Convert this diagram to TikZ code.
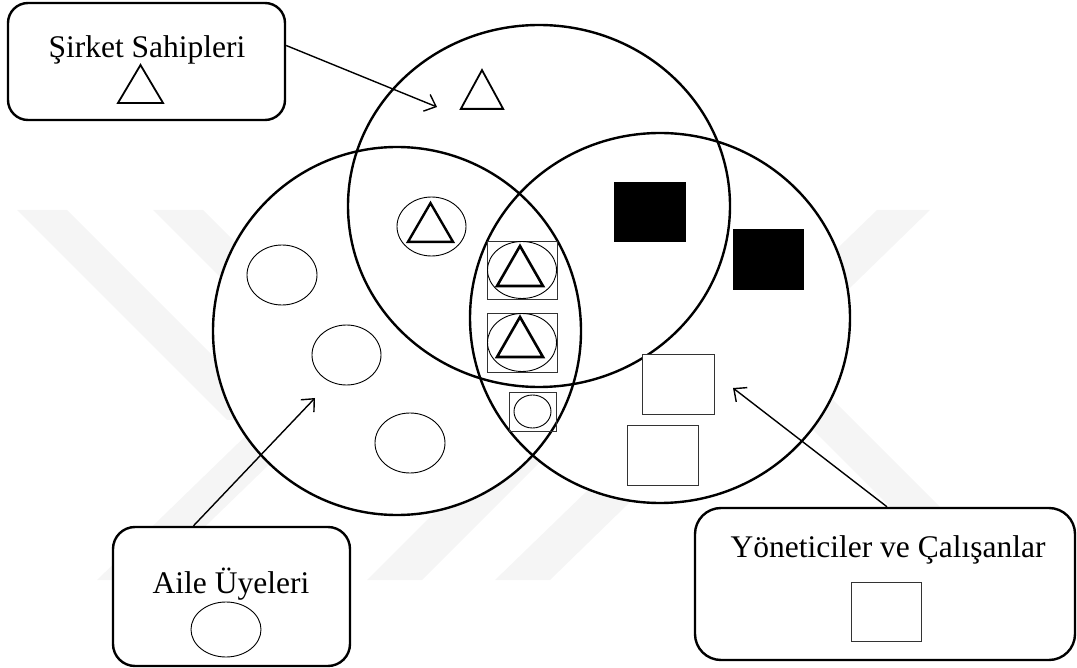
\documentclass[tikz,border=0pt]{standalone}
\usepackage{fontspec}
\setmainfont{Liberation Serif}
\usetikzlibrary{shapes.geometric,arrows.meta}

\tikzset{
  bigset/.style={ellipse, draw, line width=2.4pt, inner sep=0pt},
  member/.style={ellipse, draw, line width=0.9pt, inner sep=0pt,
                 minimum width=70pt, minimum height=60pt},
  frame/.style={rectangle, draw=black!80, line width=0.9pt, inner sep=0pt},
  blackbox/.style={rectangle, fill=black, inner sep=0pt,
                   minimum width=72pt, minimum height=60pt},
  whitebox/.style={rectangle, draw=black!80, line width=0.9pt, fill=white,
                   inner sep=0pt, minimum width=71pt, minimum height=60pt},
  legend/.style={rectangle, rounded corners=22pt, draw, line width=2.4pt,
                 fill=white, inner sep=0pt},
  caption/.style={font=\fontsize{31.5}{36}\selectfont, inner sep=0pt, anchor=base},
  arr/.style={line width=1.4pt, -{Straight Barb[length=10pt,width=18pt]}},
  band/.style={fill=gray!8, draw=none},
  tri/.pic={\draw[line join=miter] (-23,20) -- (0,-20) -- (23,20) -- cycle;}
}

\begin{document}
\begin{tikzpicture}[x=1pt,y=-1pt]
\useasboundingbox (0,0) rectangle (1077,668);

% faint background emblem (diagonal bands)
\fill[band] (17,210) -- (67,210) -- (277,420) -- (227,420) -- cycle;
\fill[band] (153,210) -- (203,210) -- (413,420) -- (363,420) -- cycle;
\fill[band] (97,580) -- (150,580) -- (315,420) -- (262,420) -- cycle;
\fill[band] (367,580) -- (422,580) -- (702,300) -- (647,300) -- cycle;
\fill[band] (495,580) -- (550,580) -- (930,210) -- (877,210) -- cycle;
\fill[band] (683,300) -- (733,300) -- (1018,585) -- (968,585) -- cycle;

% the three overlapping groups
\fill[white] (539,206) ellipse [x radius=191, y radius=181];
\fill[white] (397,331) ellipse [x radius=184, y radius=184];
\fill[white] (660,318) ellipse [x radius=190, y radius=185];
\node[bigset, minimum width=382pt, minimum height=362pt] (owners) at (539,206) {};
\node[bigset, minimum width=368pt, minimum height=368pt] (family) at (397,331) {};
\node[bigset, minimum width=380pt, minimum height=370pt] (staff) at (660,318) {};

% owners only
\pic[line width=1.8pt, xscale=0.92, yscale=0.97] at (482,89.5) {tri};

% family members
\node[member] (f1) at (282,275) {};
\node[member, minimum width=69pt] (f2) at (346.5,355) {};
\node[member] (f3) at (410,443) {};

% family owners
\node[member, minimum width=69pt, minimum height=59pt] (fo) at (431.5,226.5) {};
\pic[line width=2.4pt, xscale=0.98, yscale=0.97] at (430.5,222.5) {tri};

% family owners who also work in the firm
\node[frame, minimum width=70pt, minimum height=58pt] (fom1) at (522,270) {};
\node[member, minimum width=69pt, minimum height=57pt] (fom1e) at (522,270) {};
\pic[line width=2.6pt] at (520,266) {tri};
\node[frame, minimum width=70pt, minimum height=59pt] (fom2) at (522,342.5) {};
\node[member, minimum width=69pt, minimum height=58pt] (fom2e) at (522,342.5) {};
\pic[line width=2.6pt] at (520,337) {tri};

% family members working in the firm
\node[frame, minimum width=47pt, minimum height=39pt] (fm) at (532.5,411.5) {};
\node[member, minimum width=37pt, minimum height=33pt] (fme) at (532.5,411.5) {};

% owner managers
\node[blackbox] (om1) at (650,212) {};
\node[blackbox, minimum width=71pt, minimum height=61pt] (om2) at (768.5,259.5) {};

% managers and employees
\node[whitebox, minimum width=72pt] (m1) at (678,384) {};
\node[whitebox] (m2) at (662.5,455) {};

% legend boxes
\node[legend, rounded corners=20pt, minimum width=277pt, minimum height=117pt] (ownbox) at (146.5,61.5) {};
\node[caption] (ownlbl) at (147,58) {Şirket Sahipleri};
\pic[line width=1.8pt, xscale=0.98, yscale=0.95] at (140.5,84) {tri};

\node[legend, minimum width=237pt, minimum height=139pt] (fambox) at (231.5,596.5) {};
\node[caption] (famlbl) at (231,593) {Aile Üyeleri};
\node[member, minimum width=70pt, minimum height=55pt] (famicon) at (226,629.5) {};

\node[legend, rounded corners=26pt, minimum width=380pt, minimum height=152pt] (mgrbox) at (885,584) {};
\node[caption] (mgrlbl) at (888,557) {Yöneticiler ve Çalışanlar};
\node[whitebox, minimum width=70pt, minimum height=59pt] (mgricon) at (886,611.5) {};

% pointers
\coordinate (ownTip) at (437,107);
\coordinate (famTip) at (315,398);
\coordinate (mgrTip) at (733,388);
\draw[arr] ([yshift=16pt]ownbox.east) -- (ownTip);
\draw[arr] ([xshift=-38pt]fambox.north) -- (famTip);
\draw[arr] ([xshift=2pt]mgrbox.north) -- (mgrTip);
\end{tikzpicture}
\end{document}
